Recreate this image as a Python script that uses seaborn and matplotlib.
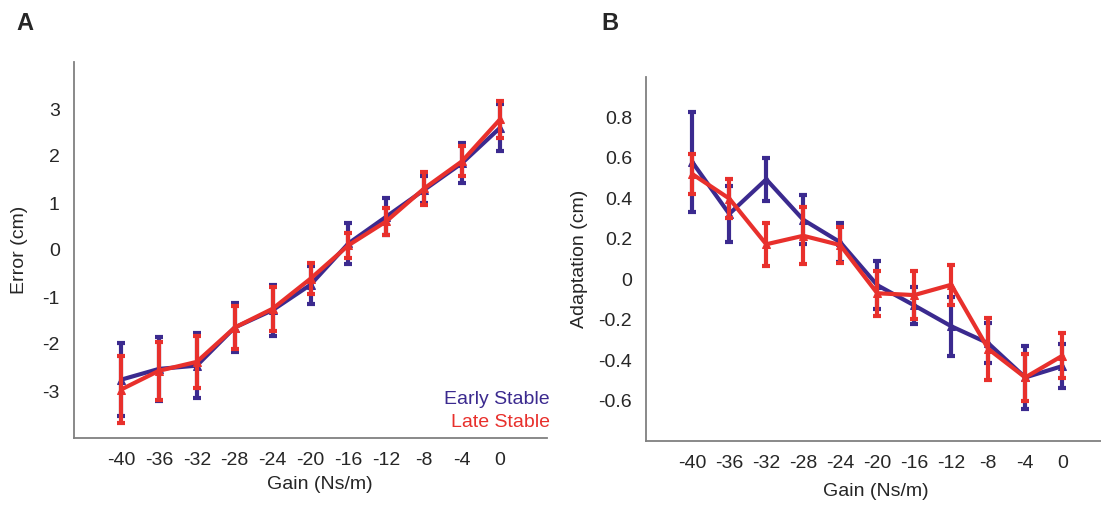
import numpy as np
import pandas as pd
import matplotlib
matplotlib.use("Agg")
import matplotlib.pyplot as plt
import seaborn as sns

gain = [-40, -36, -32, -28, -24, -20, -16, -12, -8, -4, 0]
conditions = ["Early Stable", "Late Stable"]
colors = {"Early Stable": "#3b2a8f", "Late Stable": "#e8302c"}

# panel A: error (cm), mean and error bar half-length
err_early = [-2.76, -2.53, -2.46, -1.65, -1.28, -0.74, 0.14, 0.71, 1.28, 1.85, 2.60]
err_early_sd = [0.78, 0.68, 0.69, 0.53, 0.54, 0.40, 0.43, 0.39, 0.29, 0.43, 0.50]
err_late = [-2.97, -2.57, -2.38, -1.65, -1.25, -0.61, 0.10, 0.61, 1.31, 1.89, 2.78]
err_late_sd = [0.72, 0.62, 0.56, 0.45, 0.47, 0.33, 0.26, 0.29, 0.36, 0.32, 0.39]

# panel B: adaptation (cm)
adapt_early = [0.578, 0.322, 0.493, 0.293, 0.182, -0.03, -0.13, -0.233, -0.317, -0.486, -0.43]
adapt_early_sd = [0.246, 0.138, 0.107, 0.121, 0.097, 0.118, 0.09, 0.146, 0.10, 0.156, 0.107]
adapt_late = [0.519, 0.398, 0.172, 0.214, 0.168, -0.07, -0.079, -0.028, -0.345, -0.486, -0.379]
adapt_late_sd = [0.10, 0.098, 0.107, 0.14, 0.09, 0.11, 0.118, 0.10, 0.155, 0.115, 0.111]


def make_df(early, early_sd, late, late_sd):
    return pd.concat([
        pd.DataFrame({"gain": gain, "value": early, "sd": early_sd, "condition": "Early Stable"}),
        pd.DataFrame({"gain": gain, "value": late, "sd": late_sd, "condition": "Late Stable"}),
    ], ignore_index=True)


def draw_panel(ax, df, yticks, ylabels, ylabel):
    for i, cond in enumerate(conditions):
        sub = df[df["condition"] == cond]
        c = colors[cond]
        ax.errorbar(sub["gain"], sub["value"], yerr=sub["sd"], fmt="none", ecolor=c,
                    elinewidth=3, capsize=3.2, capthick=3, zorder=2 + i)
        sns.lineplot(data=sub, x="gain", y="value", color=c, linewidth=3, marker="^",
                     markersize=6, markeredgecolor=c, ax=ax, zorder=2.5 + i)
    ax.set_xlim(-45, 5)
    ax.set_ylim(yticks[0], yticks[-1])
    ax.set_xticks(gain)
    ax.set_xticklabels([str(g) for g in gain])
    ax.set_yticks(yticks)
    ax.set_yticklabels(ylabels)
    ax.tick_params(direction="in", length=4, width=1, color="#808080", labelsize=14, pad=10)
    for s in ["top", "right"]:
        ax.spines[s].set_visible(False)
    for s in ["left", "bottom"]:
        ax.spines[s].set_color("#808080")
        ax.spines[s].set_linewidth(1.3)
    ax.set_xlabel("Gain (Ns/m)", fontsize=14)
    ax.set_ylabel(ylabel, fontsize=14)


sns.set_style("white")
plt.rcParams["font.family"] = ["Liberation Sans", "DejaVu Sans"]

fig = plt.figure(figsize=(11.01, 5.08), dpi=100)
W, H = 1101, 508
axA = fig.add_axes([73.6 / W, 1 - 438 / H, 473.8 / W, 376 / H])
axB = fig.add_axes([646 / W, 1 - 441 / H, 462.5 / W, 364.3 / H])

dfA = make_df(err_early, err_early_sd, err_late, err_late_sd)
dfB = make_df(adapt_early, adapt_early_sd, adapt_late, adapt_late_sd)

ytA = [-4, -3, -2, -1, 0, 1, 2, 3, 4]
draw_panel(axA, dfA, ytA, [""] + [str(v) for v in ytA[1:-1]] + [""], "Error (cm)")
ytB = [-0.8, -0.6, -0.4, -0.2, 0, 0.2, 0.4, 0.6, 0.8, 1.0]
lbB = ["", "-0.6", "-0.4", "-0.2", "0", "0.2", "0.4", "0.6", "0.8", ""]
draw_panel(axB, dfB, ytB, lbB, "Adaptation (cm)")

axA.xaxis.set_label_coords(0.52, -0.101)
axA.yaxis.set_label_coords(-0.096, 0.5)
axB.xaxis.set_label_coords(0.496, -0.116)
axB.yaxis.set_label_coords(-0.125, 0.5)

axA.text(1.005, 0.103, "Early Stable", color=colors["Early Stable"], fontsize=14,
         ha="right", va="center", transform=axA.transAxes)
axA.text(1.005, 0.042, "Late Stable", color=colors["Late Stable"], fontsize=14,
         ha="right", va="center", transform=axA.transAxes)

fig.text(25 / W, 1 - 24 / H, "A", fontsize=17, fontweight="bold", ha="center", va="center")
fig.text(610 / W, 1 - 23 / H, "B", fontsize=17, fontweight="bold", ha="center", va="center")

fig.savefig("out.png", dpi=100)
